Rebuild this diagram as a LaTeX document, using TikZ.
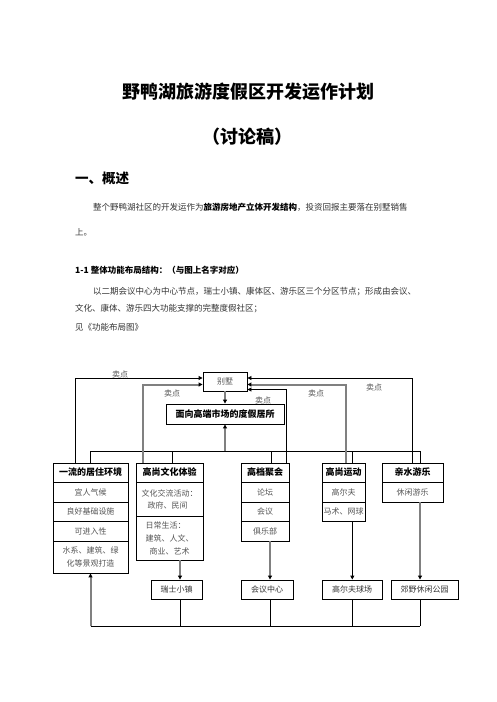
\documentclass[tikz,border=0pt]{standalone}
\usepackage{fontspec}
\setmainfont{Noto Sans CJK SC}
\usetikzlibrary{arrows.meta,calc}
\definecolor{gline}{HTML}{808080}
\definecolor{txtg}{HTML}{555555}
\definecolor{bodyc}{HTML}{333333}
\begin{document}
\begin{tikzpicture}[x=1pt,y=-1pt,
  blk/.style={draw=black,line width=0.9pt},
  gry/.style={draw=gline,line width=2pt},
  tip/.style={-{Triangle[length=4pt,width=4pt,color=black]}},
  cell/.style={draw=black,line width=0.9pt,inner sep=0pt,align=center,font=\fontsize{8}{12}\selectfont,text=txtg},
  head/.style={cell,font=\fontsize{9}{11}\selectfont\bfseries,text=black},
  lbl/.style={inner sep=0pt,font=\fontsize{8}{10}\selectfont,text=txtg},
  para/.style={anchor=west,inner sep=0pt,font=\fontsize{8.5}{10}\selectfont,text=bodyc}
]
\useasboundingbox (0,0) rectangle (496,702);
\fill[white] (0,0) rectangle (496,702);

% ---- document text ----
\node[inner sep=0pt,font=\fontsize{18}{20}\selectfont\bfseries] (title) at (248,92) {野鸭湖旅游度假区开发运作计划};
\node[inner sep=0pt,font=\fontsize{18}{20}\selectfont\bfseries] (sub) at (247,137) {（讨论稿）};
\node[anchor=west,inner sep=0pt,font=\fontsize{13.5}{15}\selectfont\bfseries] (h1) at (75,178) {一、概述};
\node[para] (p1) at (93,207) {整个野鸭湖社区的开发运作为{\bfseries\color{black}旅游房地产立体开发结构}，投资回报主要落在别墅销售};
\node[para] (p2) at (75,232) {上。};
\node[para,font=\fontsize{8.5}{10}\selectfont\bfseries,text=black] (h2) at (75,270) {1-1 整体功能布局结构：（与图上名字对应）};
\node[para] (p3) at (93,292) {以二期会议中心为中心节点，瑞士小镇、康体区、游乐区三个分区节点；形成由会议、};
\node[para] (p4) at (75,309) {文化、康体、游乐四大功能支撑的完整度假社区；};
\node[para] (p5) at (75,327) {见《功能布局图》};

% ---- top nodes ----
\node[cell,minimum width=44pt,minimum height=19pt] (villa) at (225,381.5) {别墅};
\node[head,minimum width=118pt,minimum height=20pt] (market) at (225,414) {面向高端市场的度假居所};

% ---- box 1 ----
\node[head,minimum width=75pt,minimum height=19pt] (b1t) at (90.5,472.5) {一流的居住环境};
\node[cell,minimum width=75pt,minimum height=20pt] (b1a) at (90.5,492) {宜人气候};
\node[cell,minimum width=75pt,minimum height=19pt] (b1b) at (90.5,511.5) {良好基础设施};
\node[cell,minimum width=75pt,minimum height=20pt] (b1c) at (90.5,531) {可进入性};
\node[cell,minimum width=75pt,minimum height=32pt,font=\fontsize{8}{13}\selectfont] (b1d) at (90.5,557) {水系、建筑、绿\\化等景观打造};

% ---- box 2 ----
\node[head,minimum width=67pt,minimum height=19pt] (b2t) at (169.5,472.5) {高尚文化体验};
\node[cell,minimum width=67pt,minimum height=34pt,align=left] (b2a) at (169.5,499) {文化交流活动：\\\hspace{6pt}政府、民间};
\node[cell,minimum width=67pt,minimum height=44pt,align=left,font=\fontsize{8}{13}\selectfont] (b2b) at (169.5,538) {日常生活：\\建筑、人文、\\\hspace{4pt}商业、艺术};

% ---- box 3 ----
\node[head,minimum width=48pt,minimum height=19pt] (b3t) at (265,472.5) {高档聚会};
\node[cell,minimum width=48pt,minimum height=20pt] (b3a) at (265,492) {论坛};
\node[cell,minimum width=48pt,minimum height=19pt] (b3b) at (265,511.5) {会议};
\node[cell,minimum width=48pt,minimum height=20pt] (b3c) at (265,531) {俱乐部};

% ---- box 4 ----
\node[head,minimum width=43pt,minimum height=19pt] (b4t) at (343.5,472.5) {高尚运动};
\node[cell,minimum width=43pt,minimum height=20pt] (b4a) at (343.5,492) {高尔夫};
\node[cell,minimum width=43pt,minimum height=19pt] (b4b) at (343.5,511.5) {马术、网球};

% ---- box 5 ----
\node[head,minimum width=61pt,minimum height=19pt] (b5t) at (412.5,472.5) {亲水游乐};
\node[cell,minimum width=61pt,minimum height=20pt] (b5a) at (412.5,492) {休闲游乐};

% ---- bottom nodes ----
\node[cell,text=bodyc,minimum width=51pt,minimum height=19pt] (s1) at (176.5,589.5) {瑞士小镇};
\node[cell,text=bodyc,minimum width=52pt,minimum height=19pt] (s2) at (267,589.5) {会议中心};
\node[cell,text=bodyc,minimum width=60pt,minimum height=19pt] (s3) at (352,589.5) {高尔夫球场};
\node[cell,text=bodyc,minimum width=67pt,minimum height=19pt] (s4) at (424.5,589.5) {郊野休闲公园};

% ---- labels ----
\node[lbl] (k1) at (120,374) {卖点};
\node[lbl] (k2) at (172,393) {卖点};
\node[lbl] (k3) at (263,400) {卖点};
\node[lbl] (k4) at (316,393) {卖点};
\node[lbl] (k5) at (374,387) {卖点};

% ---- helper coordinates ----
\coordinate (busY) at (0,451);
\coordinate (botY) at (0,626);
\coordinate (d1) at (b1t.north);
\coordinate (d2) at ($(b2t.north)+(2.5,0)$);
\coordinate (d3) at ($(b3t.north)+(6,0)$);
\coordinate (d4) at ($(b4t.north)+(9,0)$);
\coordinate (d5) at ($(b5t.north)+(7.5,0)$);
\coordinate (a2) at ($(b2b.south)+(10.5,0)$);
\coordinate (a3) at ($(b3c.south)+(5,0)$);
\coordinate (a4) at ($(b4b.south)+(8.8,0)$);
\coordinate (a5) at ($(b5a.south)+(7.5,0)$);

% ---- top bus ----
\draw[blk] (d1 |- busY) -- (d5 |- busY);
\foreach \d in {d1,d2,d3,d4,d5} \draw[blk] (\d) -- (\d |- busY);
\draw[gry,tip] (market.south |- busY) -- (market.south);
\draw[gry,tip] (villa.south) -- (market.north);

% ---- selling-point connectors ----
\draw[blk,tip] ($(b1t.north)+(-15.5,0)$) |- ($(villa.west)+(0,-3.5)$);
\draw[gry,tip] ($(b2t.north)+(-26.8,0)$) |- ($(villa.west)+(0,3)$);
\draw[blk,tip] ($(b5t.north)+(0.2,0)$) |- ($(villa.east)+(0,-3.5)$);
\draw[gry,tip] ($(b4t.north)+(2.2,0)$) |- ($(villa.east)+(0,3)$);
\draw[blk,tip] ($(b3t.north)+(21,0)$) |- ($(villa.east)+(0,8)$);

% ---- down arrows ----
\draw[gry,tip] (a2) -- (a2 |- s1.north);
\draw[gry,tip] (a3) -- (a3 |- s2.north);
\draw[blk,tip] (a4) -- (a4 |- s3.north);
\draw[gry,tip] (a5) -- (a5 |- s4.north);

% ---- bottom bus ----
\draw[blk] (a2 |- s1.south) -- (a2 |- botY);
\draw[blk] (a3 |- s2.south) -- (a3 |- botY);
\draw[blk] (a4 |- s3.south) -- (a4 |- botY);
\draw[blk] (a5 |- s4.south) -- (a5 |- botY);
\draw[blk] (b1d.south |- botY) -- (a5 |- botY);
\draw[gry,tip] (b1d.south |- botY) -- (b1d.south);
\end{tikzpicture}
\end{document}
